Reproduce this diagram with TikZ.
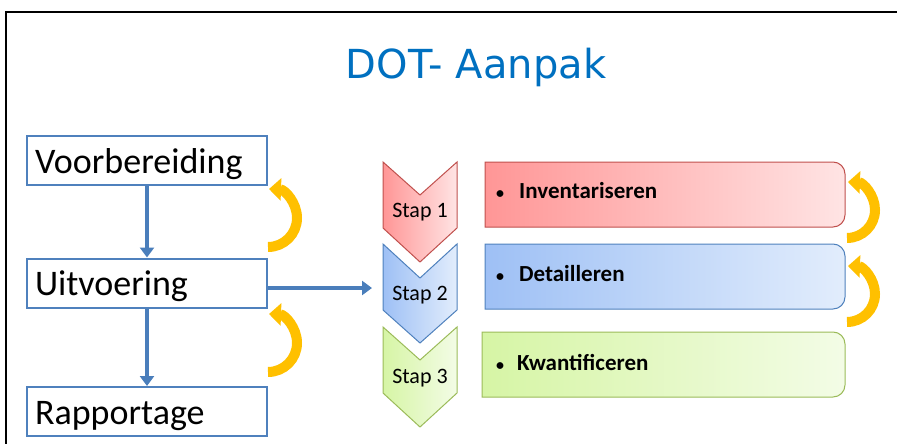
\documentclass[tikz,border=0pt]{standalone}
\usepackage{fontspec}
\setmainfont{Carlito}
\newfontfamily\titlefont{DejaVu Sans}
\usetikzlibrary{arrows.meta}
\definecolor{titleblue}{RGB}{0,112,192}
\definecolor{boxblue}{RGB}{79,129,189}
\definecolor{arrowblue}{RGB}{74,126,187}
\definecolor{loopyellow}{RGB}{255,192,0}
\definecolor{redL}{RGB}{255,150,150}
\definecolor{redR}{RGB}{255,228,228}
\definecolor{redB}{RGB}{192,80,77}
\definecolor{bluL}{RGB}{158,192,245}
\definecolor{bluR}{RGB}{226,237,252}
\definecolor{bluB}{RGB}{79,129,189}
\definecolor{grnL}{RGB}{214,245,165}
\definecolor{grnR}{RGB}{243,252,230}
\definecolor{grnB}{RGB}{155,187,89}
\newcommand{\smallbullet}{{\fontsize{16}{16}\selectfont\textbullet}}
\begin{document}
\begin{tikzpicture}[x=1pt,y=-1pt,
  leftbox/.style={draw=boxblue, line width=2pt, minimum width=240pt, minimum height=49pt,
    text width=224pt, align=left, inner xsep=8pt, inner ysep=0pt,
    text height=28pt, text depth=3pt,
    font=\fontsize{36}{40}\selectfont},
  flow/.style={draw=arrowblue, line width=3.5pt, -{Triangle[width=14pt,length=10pt]}},
  loop/.style={draw=loopyellow, line width=10pt, -{Triangle[width=22pt,length=12pt]}},
  staptext/.style={font=\fontsize{22}{26}\selectfont, inner sep=0pt, anchor=base},
  itemtext/.style={font=\bfseries\fontsize{23}{26}\selectfont, inner sep=0pt, anchor=base west},
  chevron/.style={line width=1pt},
  itembox/.style={line width=1pt}
]
\useasboundingbox (0,0) rectangle (897,444);
% frame
\draw[line width=2.5pt] (6,444) -- (6,12) -- (897,12);
% title
\node[font=\titlefont\fontsize{40}{48}\selectfont, text=titleblue, anchor=base, inner sep=0pt] (title) at (476,78) {DOT- Aanpak};
% left boxes
\node[leftbox] (voor) at (147,160.5) {Voorbereiding};
\node[leftbox] (uit) at (147,283) {Uitvoering};
\node[leftbox] (rap) at (147,411.5) {Rapportage};
\draw[flow] (voor.south) -- (uit.north);
\draw[flow] (uit.south) -- (rap.north);
\coordinate (in2) at (372,288);
\draw[flow] (uit.east |- in2) -- (in2);
% left loops
\draw[loop] (268,247) arc[start angle=90, end angle=-88, radius=29];
\draw[loop] (268,372) arc[start angle=90, end angle=-88, radius=29];
% chevrons
\path[chevron, draw=redB, left color=redL, right color=redR]
  (383,162) -- (420,195) -- (457,162) -- (457,228) -- (420,262) -- (383,228) -- cycle;
\path[chevron, draw=bluB, left color=bluL, right color=bluR]
  (383,244) -- (420,278) -- (457,244) -- (457,310) -- (420,343) -- (383,310) -- cycle;
\path[chevron, draw=grnB, left color=grnL, right color=grnR]
  (383,327) -- (420,360) -- (457,327) -- (457,393) -- (420,427) -- (383,393) -- cycle;
\node[staptext] (s1) at (420,217) {Stap 1};
\node[staptext] (s2) at (420,300) {Stap 2};
\node[staptext] (s3) at (420,383) {Stap 3};
% item boxes
\path[itembox, draw=redB, left color=redL, right color=redR]
  (485,162) -- (833,162) arc[start angle=-90, end angle=0, radius=12] -- (845,215)
  arc[start angle=0, end angle=90, radius=12] -- (485,227) -- cycle;
\path[itembox, draw=bluB, left color=bluL, right color=bluR]
  (485,244) -- (833,244) arc[start angle=-90, end angle=0, radius=12] -- (845,297)
  arc[start angle=0, end angle=90, radius=12] -- (485,309) -- cycle;
\path[itembox, draw=grnB, left color=grnL, right color=grnR]
  (482,332) -- (833,332) arc[start angle=-90, end angle=0, radius=12] -- (845,385)
  arc[start angle=0, end angle=90, radius=12] -- (482,397) -- cycle;
\node[itemtext] (i1) at (496,198) {\makebox[23pt][l]{\smallbullet}Inventariseren};
\node[itemtext] (i2) at (496,281) {\makebox[23pt][l]{\smallbullet}Detailleren};
\node[itemtext] (i3) at (496,370) {\makebox[21pt][l]{\smallbullet}Kwantificeren};
% right loops
\draw[loop] (847,238) arc[start angle=90, end angle=-88, radius=28];
\draw[loop] (847,322) arc[start angle=90, end angle=-88, radius=28];
\end{tikzpicture}
\end{document}
